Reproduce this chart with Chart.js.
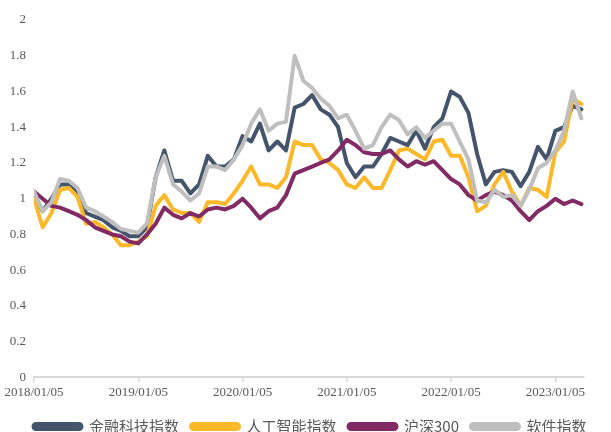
<!DOCTYPE html>
<html>
<head>
<meta charset="utf-8">
<script src="https://cdn.jsdelivr.net/npm/chart.js@4.4.0/dist/chart.umd.min.js"></script>
<style>
  html, body { margin: 0; padding: 0; background: #fff; }
</style>
</head>
<body>
<canvas id="chart" width="611" height="432"></canvas>
<script>
// month offsets from 2018/01/05
const months = [...Array(64).keys()];
const tickLabels = ['2018/01/05', '2019/01/05', '2020/01/05', '2021/01/05', '2022/01/05', '2023/01/05'];
const seriesNames = ['金融科技指数', '人工智能指数', '沪深300', '软件指数'];

const fintech = [1.02, 0.93, 1.00, 1.08, 1.08, 1.04, 0.92, 0.90, 0.88, 0.84, 0.82, 0.79,
  0.79, 0.84, 1.12, 1.27, 1.10, 1.10, 1.03, 1.08, 1.24, 1.18, 1.18, 1.22,
  1.35, 1.32, 1.42, 1.27, 1.32, 1.27, 1.51, 1.53, 1.58, 1.50, 1.47, 1.40,
  1.20, 1.12, 1.18, 1.18, 1.25, 1.34, 1.32, 1.30, 1.38, 1.28, 1.40, 1.45,
  1.60, 1.57, 1.48, 1.25, 1.08, 1.15, 1.16, 1.15, 1.07, 1.15, 1.29, 1.22,
  1.38, 1.40, 1.52, 1.50];
const aiIndex = [1.00, 0.84, 0.92, 1.05, 1.06, 1.01, 0.86, 0.87, 0.84, 0.80, 0.74, 0.74,
  0.76, 0.79, 0.96, 1.02, 0.94, 0.92, 0.92, 0.87, 0.98, 0.98, 0.97, 1.03,
  1.10, 1.18, 1.08, 1.08, 1.06, 1.12, 1.32, 1.30, 1.30, 1.22, 1.20, 1.16,
  1.08, 1.06, 1.12, 1.06, 1.06, 1.16, 1.27, 1.28, 1.25, 1.22, 1.32, 1.33,
  1.24, 1.24, 1.12, 0.93, 0.96, 1.08, 1.15, 1.04, 0.96, 1.06, 1.05, 1.01,
  1.26, 1.32, 1.56, 1.53];
const hs300 = [1.04, 1.00, 0.96, 0.95, 0.93, 0.91, 0.88, 0.84, 0.82, 0.80, 0.79, 0.76,
  0.75, 0.80, 0.86, 0.95, 0.91, 0.89, 0.92, 0.90, 0.94, 0.95, 0.94, 0.96,
  1.00, 0.95, 0.89, 0.93, 0.95, 1.02, 1.14, 1.16, 1.18, 1.20, 1.22, 1.27,
  1.33, 1.30, 1.26, 1.25, 1.25, 1.27, 1.22, 1.18, 1.21, 1.19, 1.21, 1.16,
  1.11, 1.08, 1.02, 0.99, 1.02, 1.04, 1.02, 0.99, 0.93, 0.88, 0.93, 0.96,
  1.00, 0.97, 0.99, 0.97];
const software = [1.04, 0.93, 0.98, 1.11, 1.10, 1.06, 0.95, 0.93, 0.90, 0.87, 0.83, 0.82,
  0.81, 0.86, 1.12, 1.24, 1.08, 1.04, 0.99, 1.03, 1.18, 1.18, 1.16, 1.22,
  1.30, 1.42, 1.50, 1.38, 1.42, 1.43, 1.80, 1.66, 1.62, 1.56, 1.52, 1.45,
  1.47, 1.38, 1.28, 1.30, 1.40, 1.47, 1.44, 1.36, 1.40, 1.34, 1.38, 1.42,
  1.42, 1.32, 1.22, 0.99, 0.98, 1.05, 1.01, 1.02, 0.96, 1.05, 1.17, 1.20,
  1.27, 1.38, 1.60, 1.45];

const colors = ['#44546A', '#FBB829', '#822A64', '#BFBFBF'];
// software drawn on top, fintech at the bottom
const drawOrder = [3, 2, 1, 0];

function toPoints(values) {
  return values.map((v, i) => ({ x: months[i] / 12, y: v }));
}

const allSeries = [fintech, aiIndex, hs300, software];

// nudge the legend row to sit like the original
const legendShift = {
  id: 'legendShift',
  afterLayout(chart) {
    const lg = chart.legend;
    lg.left += 18; lg.right += 18;
    lg.top += 5; lg.bottom += 5;
  }
};

new Chart(document.getElementById('chart'), {
  type: 'line',
  data: {
    datasets: allSeries.map((s, i) => ({
      label: seriesNames[i],
      data: toPoints(s),
      borderColor: colors[i],
      backgroundColor: colors[i],
      borderWidth: 4,
      pointRadius: 0,
      tension: 0,
      borderJoinStyle: 'round',
      borderCapStyle: 'round',
      order: drawOrder[i]
    }))
  },
  options: {
    responsive: false,
    animation: false,
    layout: { padding: { left: 0, right: 27, top: 20, bottom: -7 } },
    scales: {
      x: {
        type: 'linear',
        min: 0,
        max: 63.3 / 12,
        grid: { drawOnChartArea: false, drawTicks: true, tickLength: 5, color: '#D9D9D9', lineWidth: 1.5 },
        border: { color: '#D9D9D9', width: 2 },
        ticks: {
          stepSize: 1,
          includeBounds: false,
          maxRotation: 0,
          padding: 2,
          color: '#595959',
          font: { family: 'Liberation Serif', size: 13 },
          callback: v => tickLabels[v] || ''
        }
      },
      y: {
        min: 0,
        max: 2,
        grid: { display: false, drawTicks: false },
        border: { display: false },
        ticks: {
          stepSize: 0.2,
          padding: 8,
          color: '#595959',
          font: { family: 'Liberation Serif', size: 13 },
          callback: v => String(Math.round(v * 10) / 10)
        },
        afterFit: scale => { scale.width = 34; }
      }
    },
    plugins: {
      tooltip: { enabled: false },
      legend: {
        position: 'bottom',
        labels: {
          boxWidth: 48,
          boxHeight: 5,
          useBorderRadius: true,
          borderRadius: 2.5,
          padding: 12,
          color: '#595959',
          font: { family: 'Noto Sans CJK SC', size: 15 },
          sort: (a, b) => a.datasetIndex - b.datasetIndex
        }
      }
    }
  },
  plugins: [legendShift]
});
</script>
</body>
</html>
